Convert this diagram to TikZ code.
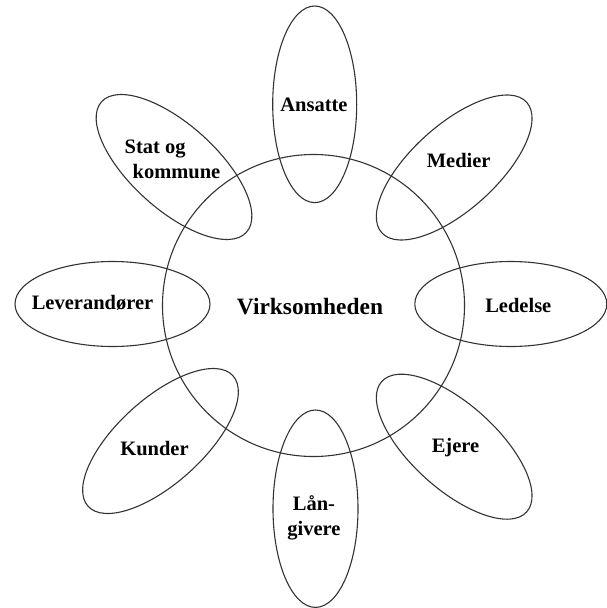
\documentclass[tikz,border=0pt]{standalone}
\usepackage{fontspec}
\setmainfont{Liberation Serif}
\begin{document}
\begin{tikzpicture}[x=1pt,y=-1pt,
  ring/.style={draw=black!80,line width=1.1pt},
  petal/.style={draw=black!80,line width=1.1pt},
  lbl/.style={font=\fontsize{20.5}{25}\selectfont\bfseries,inner sep=0pt,align=center},
  hub/.style={font=\fontsize{23.4}{28}\selectfont\bfseries,inner sep=0pt}]
\useasboundingbox (0,0) rectangle (606,608);
% central circle
\draw[ring] (313.5,305.5) circle [radius=151pt];
% petals
\draw[petal,shift={(314.7,104.3)}] (0,0) ellipse [x radius=42pt,y radius=98.3pt];
\draw[petal,shift={(315.5,508.7)}] (0,0) ellipse [x radius=42.5pt,y radius=98.7pt];
\draw[petal,shift={(112.5,304)}] (0,0) ellipse [x radius=97.5pt,y radius=42.5pt];
\draw[petal,shift={(510.8,304)}] (0,0) ellipse [x radius=96pt,y radius=42.5pt];
\draw[petal,shift={(174,167)},rotate=-42] (0,0) ellipse [x radius=97.5pt,y radius=42.5pt];
\draw[petal,shift={(454.2,167.5)},rotate=42] (0,0) ellipse [x radius=97.5pt,y radius=42.5pt];
\draw[petal,shift={(160.5,441)},rotate=42] (0,0) ellipse [x radius=97.5pt,y radius=42.5pt];
\draw[petal,shift={(454.2,446.7)},rotate=-42] (0,0) ellipse [x radius=97.5pt,y radius=42.5pt];
% labels
\node[hub] (virk) at (310,307) {Virksomheden};
\node[lbl] (ansatte) at (314,105) {Ansatte};
\node[lbl] (medier) at (458.7,160) {Medier};
\node[lbl] (ledelse) at (518.3,305.5) {Ledelse};
\node[lbl] (ejere) at (455.5,448) {Ejere};
\node[lbl] (laan) at (314,518) {Lån-\\givere};
\node[lbl] (kunder) at (154.5,449) {Kunder};
\node[lbl] (lev) at (92.5,303) {Leverandører};
\node[lbl,align=left] (stat) at (172.5,159) {Stat og\\\hspace*{8pt}kommune};
\end{tikzpicture}
\end{document}
